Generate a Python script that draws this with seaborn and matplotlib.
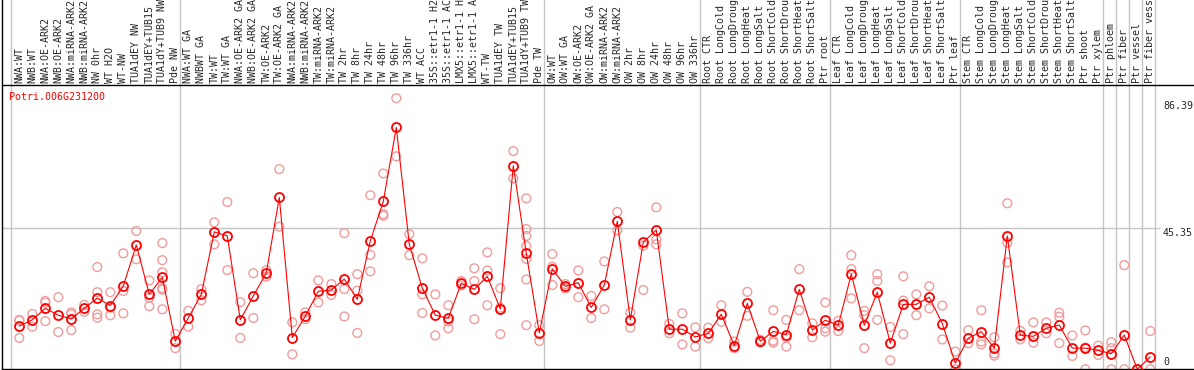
import numpy as np
import pandas as pd
import seaborn as sns
import matplotlib
matplotlib.use("Agg")
import matplotlib.pyplot as plt

gene_id = "Potri.006G231200"

samples = [
    "NWA:WT", "NWB:WT", "NWA:OE-ARK2", "NWB:OE-ARK2", "NWA:miRNA-ARK2", "NWB:miRNA-ARK2",
    "NW 0hr", "WT H2O", "WT-NW", "TUA1dEY NW", "TUA1dEY+TUB15", "TUA1dY+TUB9 NW", "Pde NW",
    "NWA:WT GA", "NWBWT GA", "TW:WT", "TW:WT GA", "NWA:OE-ARK2 GA", "NWB:OE-ARK2 GA",
    "TW:OE-ARK2", "TW:OE-ARK2 GA", "NWA:miRNA-ARK2", "NWB:miRNA-ARK2", "TW:miRNA-ARK2",
    "TW:miRNA-ARK2", "TW 2hr", "TW 8hr", "TW 24hr", "TW 48hr", "TW 96hr", "TW 336hr",
    "WT ACC", "35S::etr1-1 H2", "35S::etr1-1 AC", "LMX5::etr1-1 H", "LMX5::etr1-1 A",
    "WT-TW", "TUA1dEY TW", "TUA1dEY+TUB15", "TUA1dY+TUB9 TW", "Pde TW",
    "OW:WT", "OW:WT GA", "OW:OE-ARK2", "OW:OE-ARK2 GA", "OW:miRNA-ARK2", "OW:miRNA-ARK2",
    "OW 2hr", "OW 8hr", "OW 24hr", "OW 48hr", "OW 96hr", "OW 336hr",
    "Root CTR", "Root LongCold", "Root LongDroug", "Root LongHeat", "Root LongSalt",
    "Root ShortCold", "Root ShortDrou", "Root ShortHeat", "Root ShortSalt", "Ptr root",
    "Leaf CTR", "Leaf LongCold", "Leaf LongDroug", "Leaf LongHeat", "Leaf LongSalt",
    "Leaf ShortCold", "Leaf ShortDrou", "Leaf ShortHeat", "Leaf ShortSalt", "Ptr leaf",
    "Stem CTR", "Stem LongCold", "Stem LongDroug", "Stem LongHeat", "Stem LongSalt",
    "Stem ShortCold", "Stem ShortDrou", "Stem ShortHeat", "Stem ShortSalt", "Ptr shoot",
    "Ptr xylem", "Ptr phloem", "Ptr fiber", "Ptr vessel", "Ptr fiber vess",
]

# first sample index of each group (gray separators)
group_starts = [0, 13, 41, 53, 63, 73, 84, 85, 86, 87, 88]

means = [
    13.9, 15.9, 19.6, 17.4, 16.2, 19.6, 22.9, 20.5, 26.8, 40.0, 24.1, 29.6, 9.0,
    16.5, 24.1, 44.2, 42.9, 15.9, 23.6, 31.0, 55.3, 10.2, 17.1, 25.1, 25.5, 29.0,
    22.5, 41.3, 54.0, 77.8, 40.2, 26.1, 17.4, 16.4, 27.7, 25.7, 29.9, 19.4, 65.5,
    37.3, 11.7,
    32.3, 26.7, 27.8, 19.9, 27.1, 47.6, 15.9, 40.9, 44.8, 12.9, 12.9, 10.4,
    11.6, 17.7, 7.6, 21.2, 9.0, 12.2, 11.1, 25.7, 12.6, 15.8,
    14.2, 30.6, 14.2, 24.8, 8.4, 20.9, 20.9, 23.2, 14.7, 2.0,
    10.0, 12.1, 6.8, 42.9, 11.0, 10.6, 13.2, 14.2, 6.8, 6.8, 6.1,
    5.0, 11.0, 0.0, 4.0,
]

replicates = [
    [15.9, 15.7, 10.1], [17.8, 13.7], [22.0, 21.5, 15.5], [23.2, 12.0], [18.3, 17.7, 12.6],
    [20.7, 18.5], [32.9, 24.8, 17.7, 16.6], [24.8, 19.8, 17.4], [37.3, 25.2, 18.0],
    [44.5, 35.4], [28.6, 23.0, 20.3], [40.6, 35.1, 31.2, 26.1, 25.6, 19.3], [11.4, 6.8],
    [18.8, 13.7], [25.8, 22.2], [47.3, 40.2], [53.8, 31.9], [21.6, 10.1], [30.9, 16.5],
    [31.9, 29.8], [64.4, 45.9], [15.1, 4.8], [18.3, 16.1], [28.6, 21.5], [27.4, 23.9],
    [43.8, 25.8, 17.0], [30.6, 25.3, 11.7], [56.0, 36.8, 31.5], [63.0, 49.9, 49.4],
    [87.2, 68.5], [43.5, 36.7], [35.7, 24.1, 18.1], [24.1, 10.9], [20.6, 15.4, 13.2],
    [28.4, 27.0], [32.5, 28.4, 16.1], [37.6, 31.8, 20.6], [26.1, 19.8, 11.3],
    [70.2, 61.4], [55.0, 45.1, 42.9, 39.7, 35.5, 28.9, 14.2], [14.2, 9.1],
    [37.1, 33.0, 27.1], [27.4, 26.0], [31.8, 23.2], [23.6, 16.5], [34.7, 19.3],
    [50.6, 44.7], [18.3, 13.4], [39.8, 25.5], [52.1, 41.8, 40.2], [14.6, 11.6],
    [18.0, 8.0], [13.5, 7.3],
    [13.4, 10.0], [20.6, 15.3], [8.9, 6.8], [24.9, 17.2], [9.5, 8.6], [19.0, 9.2, 8.6],
    [15.9, 10.2, 7.3], [32.2, 19.0], [14.8, 10.3], [21.5, 13.2, 12.1],
    [15.6, 12.3], [36.7, 32.2, 22.8], [18.8, 17.4, 6.8], [30.6, 28.4, 15.9], [13.6, 2.9],
    [29.9, 22.1, 11.3], [24.1, 17.4], [26.7, 19.6], [20.5, 9.6], [5.7, 0.0],
    [12.6, 8.4], [19.0, 8.9, 8.0], [10.3, 5.1, 4.4], [53.4, 40.7, 34.4], [12.4, 9.6],
    [15.1, 8.6], [15.1, 11.6], [18.2, 16.9, 8.4], [10.9, 4.3], [12.5, 7.0, 0.0],
    [7.6, 4.6],
    [8.7, 6.8, 0.0], [33.5, 0.0], [0.0, 0.0], [12.3, 0.0],
]

axis_labels = ["86.39", "45.35", "0"]
axis_values = [86.39, 45.35, 0]

mean_df = pd.DataFrame({"pos": np.arange(len(samples)), "value": means})
rep_df = pd.DataFrame(
    [(i, v) for i, reps in enumerate(replicates) for v in reps], columns=["pos", "value"]
)

sns.set_style("white")
mono = "DejaVu Sans Mono"

W, H = 1194, 370
fig = plt.figure(figsize=(W / 100, H / 100), dpi=100)
# plot area: left 1.7px, top 85px, bottom 369.3px
ax = fig.add_axes([1.7 / W, 0.7 / H, (W - 1.7) / W, 284.3 / H])

step = 13.0
x0 = 19.3
ax.set_xlim((1.7 - x0) / step, (W - x0) / step)
ax.set_ylim(0, 91.45)

for g in group_starts:
    ax.axvline(g - 0.615, ymin=0, ymax=1 + 85 / 284.3, color="#c4c4c4", lw=1.0,
               clip_on=False, zorder=0)
ax.hlines(45.35, (1.7 - x0) / step, (1160 - x0) / step, color="#c4c4c4", lw=1.0, zorder=0)

sns.scatterplot(data=rep_df, x="pos", y="value", ax=ax, marker="o", s=40,
                facecolors="none", edgecolor="#f19c9c", linewidth=1.0, zorder=2)
sns.lineplot(data=mean_df, x="pos", y="value", ax=ax, color="#ff0000", lw=0.8,
             marker="o", markersize=6.5, markerfacecolor="none",
             markeredgecolor="#ff0000", markeredgewidth=1.3, zorder=3)

ax.set_xticks(mean_df["pos"])
ax.set_xticklabels(samples, rotation=90, family=mono, fontsize=7.2)
ax.xaxis.tick_top()
ax.tick_params(axis="x", length=0, pad=1.5)
ax.set_yticks([])
ax.set_xlabel("")
ax.set_ylabel("")

for s in ["top", "left", "bottom"]:
    ax.spines[s].set_color("black")
    ax.spines[s].set_linewidth(1.0)
ax.spines["right"].set_visible(False)
ax.spines["left"].set_bounds(0, 91.45 * (1 + 85 / 284.3))

lx = (1163 - x0) / step
for lab, v in zip(axis_labels, axis_values):
    ax.text(lx, v + (0.8 if v == 0 else 0), lab, family=mono, fontsize=7.2,
            ha="left", va="bottom" if v == 0 else "top")

ax.text(0.0064, 0.958, gene_id, transform=ax.transAxes, color="#ff0000",
        family=mono, fontsize=7.2, ha="left", va="center")

fig.savefig("out.png", dpi=100)
